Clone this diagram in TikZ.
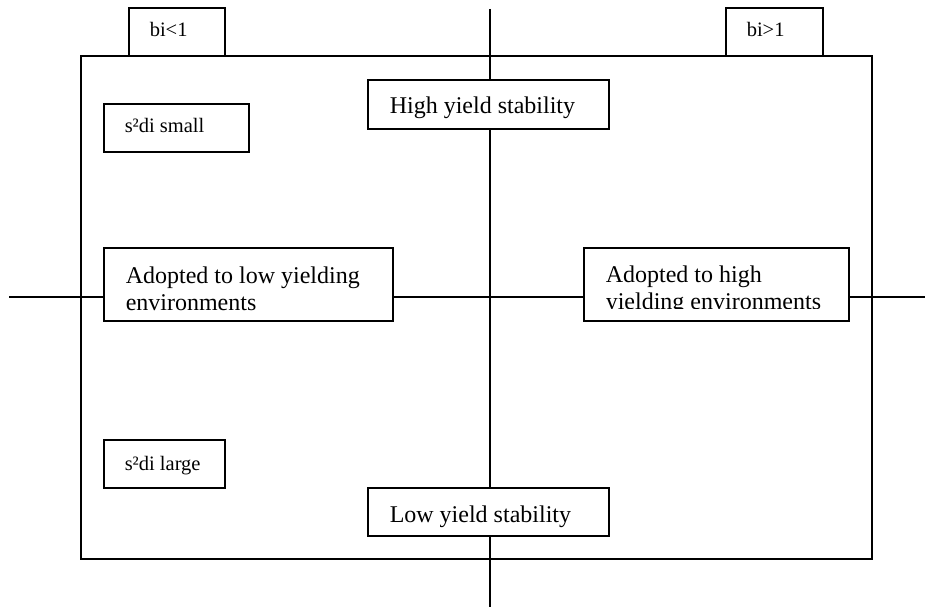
\documentclass[tikz,border=0pt]{standalone}
\usepackage{fontspec}
\setmainfont{Liberation Serif}
\begin{document}
\begin{tikzpicture}[x=1pt,y=-1pt,line width=1.5pt,
  box/.style={draw,fill=white,inner sep=0pt,outer sep=0pt,anchor=north west},
  big/.style={font=\fontsize{24}{27}\selectfont,inner sep=0pt,anchor=base west},
  small/.style={font=\fontsize{20.5}{24}\selectfont,inner sep=0pt,anchor=base west}]
\useasboundingbox (0,0) rectangle (934,607);
% axes
\coordinate (vtop) at (490,9);
\coordinate (vbot) at (490,607);
\coordinate (hleft) at (9,297);
\coordinate (hright) at (925,297);
\draw (vtop) -- (vbot);
\draw (hleft) -- (hright);
% frame
\node[draw,inner sep=0pt,outer sep=0pt,anchor=north west,minimum width=791pt,minimum height=503pt] (frame) at (81,56) {};
% boxes
\node[box,minimum width=96pt,minimum height=48pt] (b1) at (129,8) {};
\node[box,minimum width=97pt,minimum height=48pt] (b2) at (726,8) {};
\node[box,minimum width=241pt,minimum height=49pt] (high) at (368,80) {};
\node[box,minimum width=145pt,minimum height=48pt] (ssmall) at (104,104) {};
\node[box,minimum width=289pt,minimum height=73pt] (adlow) at (104,248) {};
\node[box,minimum width=265pt,minimum height=73pt] (adhigh) at (584,248) {};
\node[box,minimum width=121pt,minimum height=48pt] (slarge) at (104,440) {};
\node[box,minimum width=241pt,minimum height=48pt] (low) at (368,488) {};
% texts
\node[small] (tb1) at (149,37) {bi<1};
\node[small] (tb2) at (746,37) {bi>1};
\node[big] (thigh) at (389,114) {High yield stability};
\node[small] (tssmall) at (124,133) {s²di small};
\node[big] (tadlow1) at (125,283) {Adopted to low yielding};
\node[big] (tadlow2) at (125,310) {environments};
\node[big] (tadhigh1) at (605,282) {Adopted to high};
\begin{scope}
\clip (586,250) rectangle (847,308);
\node[big] (tadhigh2) at (605,309) {yielding environments};
\end{scope}
\node[small] (tslarge) at (124,470) {s²di large};
\node[big] (tlow) at (389,522) {Low yield stability};
\end{tikzpicture}
\end{document}
